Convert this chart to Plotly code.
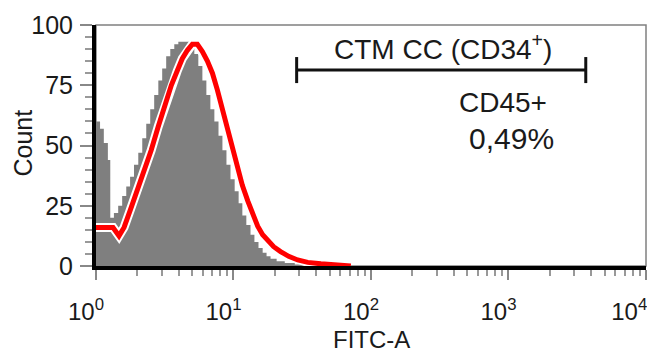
import plotly.graph_objects as go

# Gray histogram (isotype / control): FITC-A value, count
gray_fitc = [1.00, 1.07, 1.14, 1.22, 1.27, 1.35, 1.45, 1.55, 1.66, 1.77, 1.89, 2.03, 2.17,
             2.32, 2.48, 2.65, 2.84, 3.03, 3.24, 3.47, 3.71, 3.97, 4.24, 4.54, 4.85, 5.19,
             5.55, 5.94, 6.35, 6.79, 7.26, 7.78, 8.31, 8.89, 9.51, 10.2, 10.9, 11.6, 12.4,
             13.3, 14.2, 15.2, 16.3, 17.4, 18.6, 20.6, 23.6, 27.9, 34.1, 43.2]
gray_count = [60, 57, 51, 44, 20, 22, 25, 29, 33, 37, 42, 47, 53,
              59, 65, 71, 77, 82, 87, 90, 92, 93, 93, 93, 92, 88,
              83, 77, 71, 65, 60, 54, 48, 42, 36, 31, 26, 21, 17,
              13, 10, 7.5, 5.5, 4, 3, 2, 1.2, 0.6, 0.2, 0]

# Red histogram (CD45 stained)
red_fitc = [1.00, 1.33, 1.47, 1.60, 1.77, 1.99, 2.24, 2.52, 2.84, 3.19, 3.53, 3.90, 4.24,
            4.62, 5.02, 5.46, 5.94, 6.46, 7.03, 7.64, 8.31, 9.04, 9.84, 10.7, 11.6, 12.7,
            13.8, 15.0, 16.3, 17.7, 19.6, 22.0, 25.2, 29.3, 34.7, 43.2, 55.6, 71.4]
red_count = [16, 16, 12.5, 16, 23, 31, 39, 48, 58, 67, 75, 81, 86,
             89.5, 92, 92, 89, 85, 80, 73, 65, 57, 49, 41, 33.5, 27,
             21, 16.5, 13, 10.5, 8, 6, 4, 2.5, 1.5, 0.9, 0.4, 0]

# Gate bracket
gate_x = [28.8, 3650]
gate_y = 81.3
gate_cap = [75.9, 86.7]

NB = "\u00a0" * 3   # pads labels so they sit slightly left of the tick, as in the reference
NB_LAST = "\u00a0" * 5
x_tickvals = [1, 10, 100, 1000, 10000]
x_ticktext = ["10<sup>0</sup>" + NB, "10<sup>1</sup>" + NB, "10<sup>2</sup>" + NB,
              "10<sup>3</sup>" + NB, "10<sup>4</sup>" + NB_LAST]
y_tickvals = [0, 25, 50, 75, 100]

FONT = "Liberation Sans, Arial, sans-serif"
TXT = "#1a1a1a"

fig = go.Figure()
fig.add_trace(go.Scatter(x=gray_fitc, y=gray_count, mode="lines", line=dict(shape="hv", width=0, color="#7f7f7f"),
                         fill="tozeroy", fillcolor="#7f7f7f", hoverinfo="skip", showlegend=False))
fig.add_trace(go.Scatter(x=red_fitc, y=red_count, mode="lines", line=dict(width=9, color="white"),
                         hoverinfo="skip", showlegend=False))
fig.add_trace(go.Scatter(x=red_fitc, y=red_count, mode="lines", line=dict(width=5, color="#ff0000"),
                         showlegend=False))
# bracket
fig.add_trace(go.Scatter(x=[gate_x[0], gate_x[1], None, gate_x[0], gate_x[0], None, gate_x[1], gate_x[1]],
                         y=[gate_y, gate_y, None, gate_cap[0], gate_cap[1], None, gate_cap[0], gate_cap[1]],
                         mode="lines", line=dict(width=3, color="#111111"), hoverinfo="skip", showlegend=False))

def ann(text, x, y, size, angle=0):
    return dict(text=text, xref="paper", yref="paper", x=x, y=y, xanchor="center", yanchor="middle",
                textangle=angle, showarrow=False, font=dict(size=size, family=FONT, color=TXT))

# page body has an 8px margin: figure is sized/offset so the plot lands where the reference has it
fig.update_layout(
    width=647, height=344,
    margin=dict(l=88, r=9, t=17, b=86, autoexpand=False),
    plot_bgcolor="white", paper_bgcolor="white",
    font=dict(family=FONT, color=TXT, size=24),
    xaxis=dict(type="log", range=[0, 4.0004], tickvals=x_tickvals, ticktext=x_ticktext, automargin=False,
               showgrid=False, zeroline=False, showline=True, linewidth=4, linecolor="black",
               ticks="outside", ticklen=10, tickwidth=1.5, tickcolor="#888888", ticklabelstandoff=11,
               ticklabeloverflow="allow",
               tickfont=dict(size=24, family=FONT, color=TXT),
               minor=dict(ticks="outside", ticklen=6, tickwidth=1.5, tickcolor="#999999", dtick="D1", showgrid=False)),
    yaxis=dict(range=[0, 100], tickvals=y_tickvals, showgrid=False, zeroline=False, automargin=False,
               showline=True, linewidth=4, linecolor="black",
               ticks="outside", ticklen=12, tickwidth=1.5, tickcolor="#888888", ticklabelstandoff=2,
               tickfont=dict(size=25, family=FONT, color=TXT),
               minor=dict(ticks="outside", ticklen=7, tickwidth=1.5, tickcolor="#999999", dtick=5, showgrid=False)),
    shapes=[dict(type="rect", xref="paper", yref="paper", x0=0, x1=1, y0=0, y1=1,
                 line=dict(color="#808080", width=1.5), layer="below")],
    annotations=[
        ann("CTM CC (CD34<sup>+</sup>)", 0.631, 0.909, 28),
        ann("CD45+", 0.740, 0.680, 28),
        ann("0,49%", 0.756, 0.527, 30),
        ann("Count", -0.132, 0.510, 25, -90),
        ann("FITC-A", 0.5, -0.307, 24),
    ],
)

fig.write_html("out.html")
